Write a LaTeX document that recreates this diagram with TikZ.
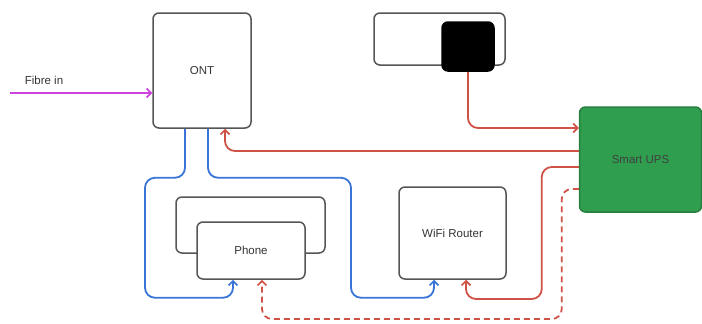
\documentclass[tikz,border=0pt]{standalone}
\usepackage{fontspec}
\setmainfont{Liberation Sans}
\usetikzlibrary{calc,arrows.meta}
\definecolor{boxline}{HTML}{555555}
\definecolor{txt}{HTML}{333333}
\definecolor{linkred}{HTML}{CF5247}
\definecolor{linkblue}{HTML}{3A74D6}
\definecolor{fibre}{HTML}{CC44DD}
\definecolor{upsgreen}{HTML}{2F9E4F}
\tikzset{
  box/.style={draw=boxline, line width=1.5pt, rounded corners=6pt, fill=white,
    inner sep=0pt, text=txt, font=\fontsize{11.5}{13}\selectfont},
  lbl/.style={text=txt, font=\fontsize{11.5}{13}\selectfont, inner sep=0pt},
  tip/.style={-{Straight Barb[length=4.5pt,width=9pt,line width=1.6pt]}},
  link/.style={line width=1.8pt, rounded corners=10pt, tip},
  redlink/.style={link, draw=linkred},
  bluelink/.style={link, draw=linkblue},
}
\begin{document}
\begin{tikzpicture}[x=1pt,y=-1pt]
\useasboundingbox (0,0) rectangle (702,324);
% nodes
\node[box, minimum width=98pt, minimum height=115pt] (ont) at (202,70.5) {ONT};
\node[box, minimum width=131pt, minimum height=52pt] (plug) at (439.5,39) {};
\node[box, draw=black, fill=black, minimum width=52pt, minimum height=49pt] (blk) at (468,46.5) {};
\node[box, draw=upsgreen!80!black, fill=upsgreen, minimum width=122pt, minimum height=105pt, text=black!75] (ups) at (640.5,159.5) {Smart UPS};
\node[box, minimum width=149pt, minimum height=56pt] (phback) at (250.5,225) {};
\node[box, minimum width=108pt, minimum height=57pt] (phone) at (251,250.5) {Phone};
\node[box, minimum width=107pt, minimum height=92pt] (wifi) at (452.5,233) {WiFi Router};
\node[lbl] (fibrelbl) at (44,80) {Fibre in};
\coordinate (fibrein) at (10,93);
% fibre
\draw[line width=1.8pt, draw=fibre, tip] (fibrein) -- (fibrein -| ont.west);
% plug to UPS
\draw[redlink] (blk.south) |- ($(ups.west)+(0,-31.5)$);
% UPS to ONT
\draw[redlink] ($(ups.west)+(0,-8.5)$) -| ($(ont.south)+(23,0)$);
% UPS to WiFi
\draw[redlink] ($(ups.west)+(0,7.5)$) -- ++(-37,0) -- ++(0,132) -| ($(wifi.south)+(13.5,0)$);
% UPS to phone (dashed)
\draw[redlink, dashed, dash pattern=on 6pt off 4pt] ($(ups.west)+(0,29.5)$) -- ++(-17,0) -- ++(0,130) -| ($(phone.south)+(11,0)$);
% ONT to phone
\draw[bluelink] ($(ont.south)+(-17,0)$) -- ++(0,49) -- ++(-40,0) -- ++(0,120) -| ($(phone.south)+(-18,0)$);
% ONT to WiFi
\draw[bluelink] ($(ont.south)+(6,0)$) -- ++(0,49) -- ++(143,0) -- ++(0,120) -| ($(wifi.south)+(-18.5,0)$);
\end{tikzpicture}
\end{document}
